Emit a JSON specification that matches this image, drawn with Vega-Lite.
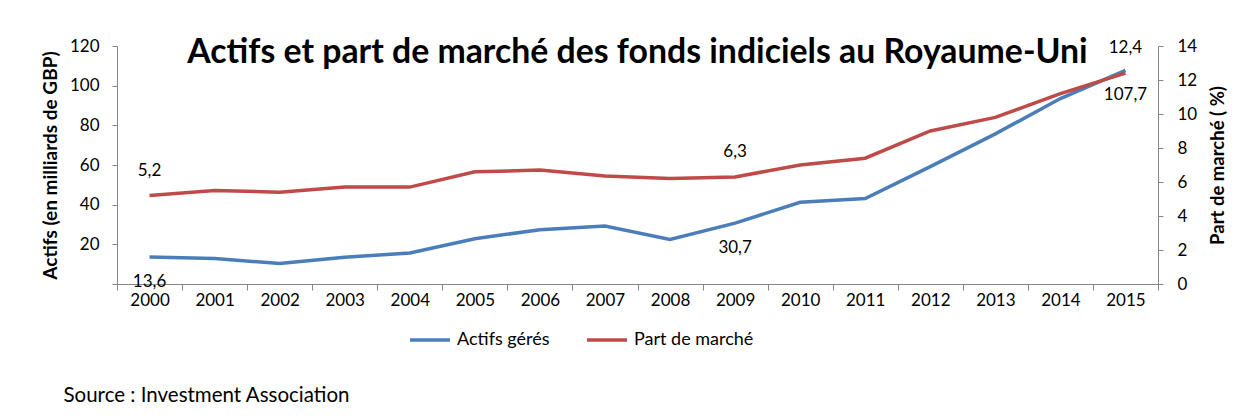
{
  "$schema": "https://vega.github.io/schema/vega-lite/v6.json",
  "width": 1041,
  "height": 238,
  "autosize": {"type": "none"},
  "padding": {"left": 117, "top": 46, "right": 88, "bottom": 132},
  "background": "white",
  "title": {
    "text": "Actifs et part de marché des fonds indiciels au Royaume-Uni",
    "font": "Lato", "fontSize": 33.8, "fontWeight": "bold", "color": "black",
    "anchor": "middle", "frame": "group", "baseline": "alphabetic", "offset": -35, "dy": 25
  },
  "data": {"values": [
    {"year": "2000", "actifs": 13.6, "part": 5.2},
    {"year": "2001", "actifs": 12.8, "part": 5.5},
    {"year": "2002", "actifs": 10.3, "part": 5.4},
    {"year": "2003", "actifs": 13.5, "part": 5.7},
    {"year": "2004", "actifs": 15.6, "part": 5.7},
    {"year": "2005", "actifs": 22.8, "part": 6.6},
    {"year": "2006", "actifs": 27.4, "part": 6.7},
    {"year": "2007", "actifs": 29.2, "part": 6.35},
    {"year": "2008", "actifs": 22.5, "part": 6.2},
    {"year": "2009", "actifs": 30.7, "part": 6.3},
    {"year": "2010", "actifs": 41.2, "part": 7.0},
    {"year": "2011", "actifs": 43.1, "part": 7.4},
    {"year": "2012", "actifs": 59.2, "part": 9.0},
    {"year": "2013", "actifs": 75.7, "part": 9.8},
    {"year": "2014", "actifs": 93.5, "part": 11.2},
    {"year": "2015", "actifs": 107.7, "part": 12.4}
  ]},
  "encoding": {
    "x": {
      "field": "year", "type": "ordinal",
      "scale": {"type": "band", "paddingInner": 0, "paddingOuter": 0},
      "axis": {
        "labelAngle": 0, "tickBand": "extent", "tickSize": 6, "labelPadding": 2,
        "title": "Source : Investment Association",
        "titleX": -54, "titleY": 117, "titleAlign": "left", "titleBaseline": "alphabetic",
        "titleAngle": 0, "titleFontWeight": "normal", "titleFontSize": 20.5
      }
    }
  },
  "layer": [
    {
      "encoding": {
        "y": {
          "field": "actifs", "type": "quantitative",
          "scale": {"domain": [0, 120]},
          "axis": {
            "orient": "left", "values": [0, 20, 40, 60, 80, 100, 120],
            "labelExpr": "datum.value == 0 ? '' : datum.label",
            "labelOverlap": false,
            "tickSize": 5, "labelPadding": 13,
            "title": "Actifs (en milliards de GBP)", "titlePadding": 9, "titleFontWeight": "bold",
            "titleFontSize": 19
          }
        }
      },
      "layer": [
        {
          "mark": {"type": "line", "strokeWidth": 3.5},
          "encoding": {
            "color": {
              "datum": "Actifs gérés", "type": "nominal",
              "scale": {"domain": ["Actifs gérés", "Part de marché"], "range": ["#4A7EBB", "#BE4B48"]},
              "legend": {
                "orient": "none", "legendX": 291, "legendY": 272, "direction": "horizontal",
                "title": null, "symbolType": "stroke", "symbolSize": 1600, "symbolStrokeWidth": 3.5,
                "labelFont": "Lato", "labelFontSize": 18, "labelColor": "black",
                "labelOffset": 5, "columnPadding": 30
              }
            }
          }
        },
        {
          "transform": [{"filter": {"field": "year", "oneOf": ["2000", "2009", "2015"]}}],
          "mark": {"type": "text", "dy": 25, "font": "Lato", "fontSize": 17, "color": "black"},
          "encoding": {
            "text": {"field": "actifs", "type": "quantitative", "format": ".1f"}
          }
        }
      ]
    },
    {
      "encoding": {
        "y": {
          "field": "part", "type": "quantitative",
          "scale": {"domain": [0, 14]},
          "axis": {
            "orient": "right", "values": [0, 2, 4, 6, 8, 10, 12, 14],
            "labelOverlap": false,
            "tickSize": 5, "labelPadding": 14,
            "title": "Part de marché ( %)", "titleAngle": 270, "titleBaseline": "top",
            "titlePadding": 12, "titleFontWeight": "bold", "titleFontSize": 18.5
          }
        }
      },
      "layer": [
        {
          "mark": {"type": "line", "strokeWidth": 3.5},
          "encoding": {
            "color": {"datum": "Part de marché", "type": "nominal"}
          }
        },
        {
          "transform": [{"filter": {"field": "year", "oneOf": ["2000", "2009", "2015"]}}],
          "mark": {"type": "text", "dy": -25, "font": "Lato", "fontSize": 17, "color": "black"},
          "encoding": {
            "text": {"field": "part", "type": "quantitative", "format": ".1f"}
          }
        }
      ]
    }
  ],
  "resolve": {"scale": {"y": "independent"}},
  "config": {
    "view": {"stroke": null},
    "locale": {"number": {"decimal": ",", "thousands": " ", "grouping": [3], "currency": ["", " €"]}},
    "axis": {
      "domainColor": "#868686", "tickColor": "#868686", "grid": false,
      "labelFont": "Lato", "labelFontSize": 17, "labelColor": "black",
      "titleFont": "Lato", "titleFontSize": 16, "titleColor": "black"
    }
  }
}
